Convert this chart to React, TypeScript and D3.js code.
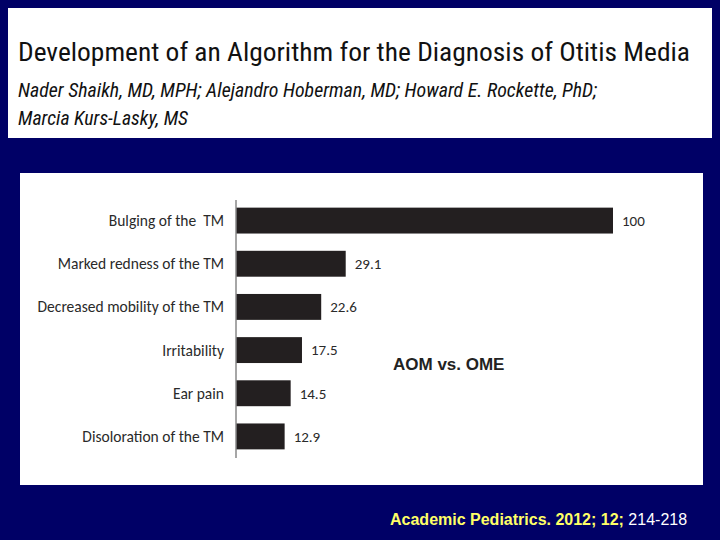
import React from "react";
import * as d3 from "d3";

const categories = [
  "Bulging of the  TM",
  "Marked redness of the TM",
  "Decreased mobility of the TM",
  "Irritability",
  "Ear pain",
  "Disoloration of the TM",
];
const values = [100, 29.1, 22.6, 17.5, 14.5, 12.9];
const valueLabels = ["100", "29.1", "22.6", "17.5", "14.5", "12.9"];

const title = "Development of an Algorithm for the Diagnosis of Otitis Media";
const authorLines = [
  "Nader Shaikh, MD, MPH; Alejandro Hoberman, MD; Howard E. Rockette, PhD;",
  "Marcia Kurs-Lasky, MS",
];
const chartNote = "AOM vs. OME";
const citeYellow = "Academic Pediatrics. 2012; 12;";
const citeWhite = " 214-218";

const NAVY = "#000066";
const BAR = "#231f20";
const narrow = "'Liberation Sans Narrow', 'Arial Narrow', 'Roboto Condensed', 'Liberation Sans', sans-serif";
const calibri = "Carlito, Calibri, Lato, 'Open Sans', sans-serif";

export default function App() {
  const x = d3.scaleLinear().domain([0, 100]).range([236, 613]);
  const y = d3
    .scaleBand<string>()
    .domain(categories)
    .range([199, 458])
    .paddingInner(0.4)
    .paddingOuter(0.2);

  return (
    <svg
      width={720}
      height={540}
      style={{ position: "absolute", left: 0, top: 0 }}
    >
      <rect x={0} y={0} width={720} height={540} fill={NAVY} />
      {/* Title box */}
      <rect x={8} y={8} width={704} height={130} fill="#ffffff" />
      <text
        x={18}
        y={61}
        fontFamily={narrow}
        fontSize={25}
        fill="#111"
        textLength={672}
        lengthAdjust="spacingAndGlyphs"
      >
        {title}
      </text>
      {authorLines.map((line, i) => (
        <text
          key={i}
          x={18}
          y={97 + i * 28}
          fontFamily={narrow}
          fontStyle="italic"
          fontSize={20}
          fill="#111"
          textLength={i === 0 ? 579 : 170}
          lengthAdjust="spacingAndGlyphs"
        >
          {line}
        </text>
      ))}

      {/* Chart panel */}
      <rect x={20} y={173} width={683} height={312} fill="#ffffff" />
      {categories.map((c, i) => (
        <g key={c}>
          <rect
            x={x(0)}
            y={y(c)}
            width={x(values[i]) - x(0)}
            height={y.bandwidth()}
            fill={BAR}
          />
          <text
            x={224}
            y={(y(c) ?? 0) + y.bandwidth() / 2}
            dy="0.35em"
            textAnchor="end"
            fontFamily={calibri}
            fontSize={15.5}
            fill="#2a2a2a"
            style={{ whiteSpace: "pre" }}
          >
            {c}
          </text>
          <text
            x={x(values[i]) + 9}
            y={(y(c) ?? 0) + y.bandwidth() / 2}
            dy="0.35em"
            fontFamily={calibri}
            fontSize={15}
            fill="#2a2a2a"
          >
            {valueLabels[i]}
          </text>
        </g>
      ))}
      <line x1={236} x2={236} y1={200} y2={458} stroke="#888" strokeWidth={1.5} />
      <text
        x={393}
        y={370}
        fontFamily="'Liberation Sans', Arial, sans-serif"
        fontWeight="bold"
        fontSize={17}
        fill="#222"
      >
        {chartNote}
      </text>

      {/* Citation */}
      <text x={390} y={525} fontFamily="'Liberation Sans', Arial, sans-serif" fontSize={16}>
        <tspan fill="#ffff66" fontWeight="bold">{citeYellow}</tspan>
        <tspan fill="#ffffff">{citeWhite}</tspan>
      </text>
    </svg>
  );
}
